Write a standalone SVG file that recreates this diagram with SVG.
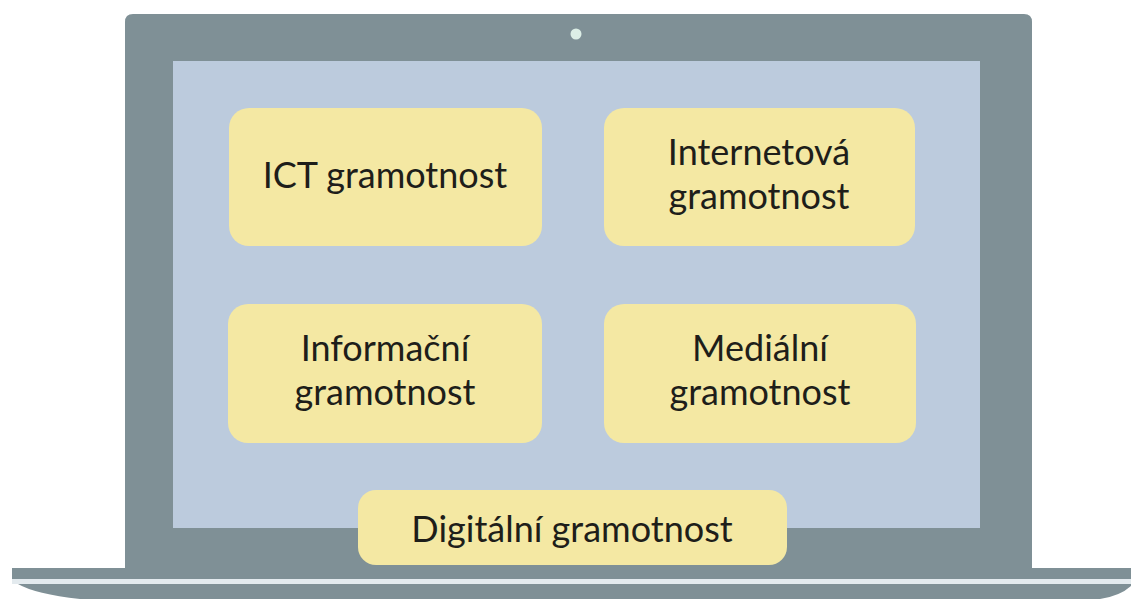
<svg xmlns="http://www.w3.org/2000/svg" width="1131" height="599" viewBox="0 0 1131 599">
<style>
.box{fill:#f4e8a3}
.t{font-family:Lato,"Open Sans",sans-serif;font-size:36px;fill:#1e1e1a;text-anchor:middle}
.body{fill:#7f9096}
</style>
<rect width="1131" height="599" fill="#ffffff"/>
<g id="laptop">
<path class="body" d="M125,568 L125,22 Q125,14 133,14 L1024,14 Q1032,14 1032,22 L1032,568 Z"/>
<rect x="173" y="61" width="807" height="467" fill="#bccbdd"/>
<circle cx="576" cy="34" r="5.5" fill="#dceee6"/>
<rect class="body" x="12" y="568" width="1119" height="11"/>
<rect x="12" y="579" width="1119" height="5" fill="#e3eaee"/>
<path class="body" d="M18,584 L1131,584 L1131,586 Q1120,596 1100,599 L80,599 Q35,594 18,584 Z"/>
</g>
<g id="node-ict">
<rect class="box" x="229" y="108" width="313" height="138" rx="20"/>
<text class="t" x="385" y="188">ICT gramotnost</text>
</g>
<g id="node-internet">
<rect class="box" x="604" y="108" width="311" height="138" rx="20"/>
<text class="t" x="759" y="165">Internetová</text>
<text class="t" x="759" y="209">gramotnost</text>
</g>
<g id="node-info">
<rect class="box" x="228" y="304" width="314" height="139" rx="20"/>
<text class="t" x="385" y="361">Informační</text>
<text class="t" x="385" y="405">gramotnost</text>
</g>
<g id="node-media">
<rect class="box" x="604" y="304" width="312" height="139" rx="20"/>
<text class="t" x="760" y="361">Mediální</text>
<text class="t" x="760" y="405">gramotnost</text>
</g>
<g id="node-digital">
<rect class="box" x="358" y="490" width="429" height="75" rx="18"/>
<text class="t" x="572" y="542">Digitální gramotnost</text>
</g>
<g id="connectors"/>
</svg>
